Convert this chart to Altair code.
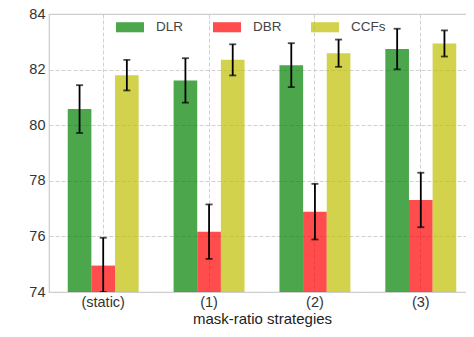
import altair as alt
import pandas as pd

categories = ["(static)", "(1)", "(2)", "(3)"]
methods = ["DLR", "DBR", "CCFs"]
colors = ["#008000", "#ff0000", "#bfbf00"]

dlr = [80.58, 81.61, 82.16, 82.74]
dlr_err = [0.86, 0.80, 0.79, 0.73]
dbr = [74.95, 76.17, 76.89, 77.31]
dbr_err = [1.00, 0.98, 1.00, 0.98]
ccfs = [81.80, 82.35, 82.59, 82.94]
ccfs_err = [0.55, 0.56, 0.49, 0.47]

rows = []
for vals, errs, m in [(dlr, dlr_err, "DLR"), (dbr, dbr_err, "DBR"), (ccfs, ccfs_err, "CCFs")]:
    for c, v, e in zip(categories, vals, errs):
        rows.append({"strategy": c, "method": m, "value": v, "lo": v - e, "hi": v + e})
df = pd.DataFrame(rows)

font = "Liberation Sans"

x = alt.X("strategy:N", sort=categories, title="mask-ratio strategies",
          scale=alt.Scale(paddingInner=0.33, paddingOuter=0.177),
          axis=alt.Axis(labelAngle=0, grid=True, gridDash=[4, 2], gridColor="#d0d0d0",
                        ticks=False, domain=False, labelPadding=3, titlePadding=3,
                        labelFontSize=14.5, titleFontSize=15, labelColor="#333333",
                        titleColor="#222222", labelFont=font, titleFont=font,
                        titleFontWeight="normal"))
xoff = alt.XOffset("method:N", sort=methods)
yscale = alt.Scale(domain=[74, 84], nice=False, zero=False, clamp=True)

bars = alt.Chart(df).mark_bar(opacity=0.7, clip=True).encode(
    x=x,
    xOffset=xoff,
    y=alt.Y("value:Q", scale=yscale, title="metrics",
            axis=alt.Axis(values=[74, 76, 78, 80, 82, 84], grid=True, gridDash=[4, 2],
                          gridColor="#d0d0d0", ticks=False, domain=False, labelPadding=4,
                          titlePadding=7, labelFontSize=14.5, titleFontSize=15,
                          labelColor="#333333", titleColor="#222222",
                          labelFont=font, titleFont=font, titleFontWeight="normal")),
    y2=alt.datum(74),
    color=alt.Color("method:N", sort=methods,
                    scale=alt.Scale(domain=methods, range=colors),
                    legend=alt.Legend(title=None, orient="none", direction="horizontal",
                                      legendX=67, legendY=-1, columns=3,
                                      symbolType="M-1,-0.36L1,-0.36L1,0.36L-1,0.36Z",
                                      symbolSize=784, symbolOpacity=0.7, symbolStrokeWidth=0,
                                      labelFontSize=13.5, labelFont=font, labelColor="#444444",
                                      labelOffset=12, columnPadding=29)),
)

err = alt.Chart(df).mark_errorbar(ticks=alt.MarkConfig(size=7, color="black", strokeWidth=1.8),
                                  color="black", thickness=1.8, clip=True).encode(
    x=alt.X("strategy:N", sort=categories),
    xOffset=xoff,
    y=alt.Y("lo:Q", scale=yscale, title=None),
    y2="hi:Q",
)

chart = alt.layer(bars, err).properties(
    width=426, height=278,
    autosize=alt.AutoSizeParams(type="none"),
    padding={"left": 41, "top": 6, "right": -9, "bottom": 37},
).configure_view(stroke="#cccccc", strokeWidth=1.2).configure_axis(labelFont=font)

chart.save("out.html", embed_options={"renderer": "svg", "actions": False})
